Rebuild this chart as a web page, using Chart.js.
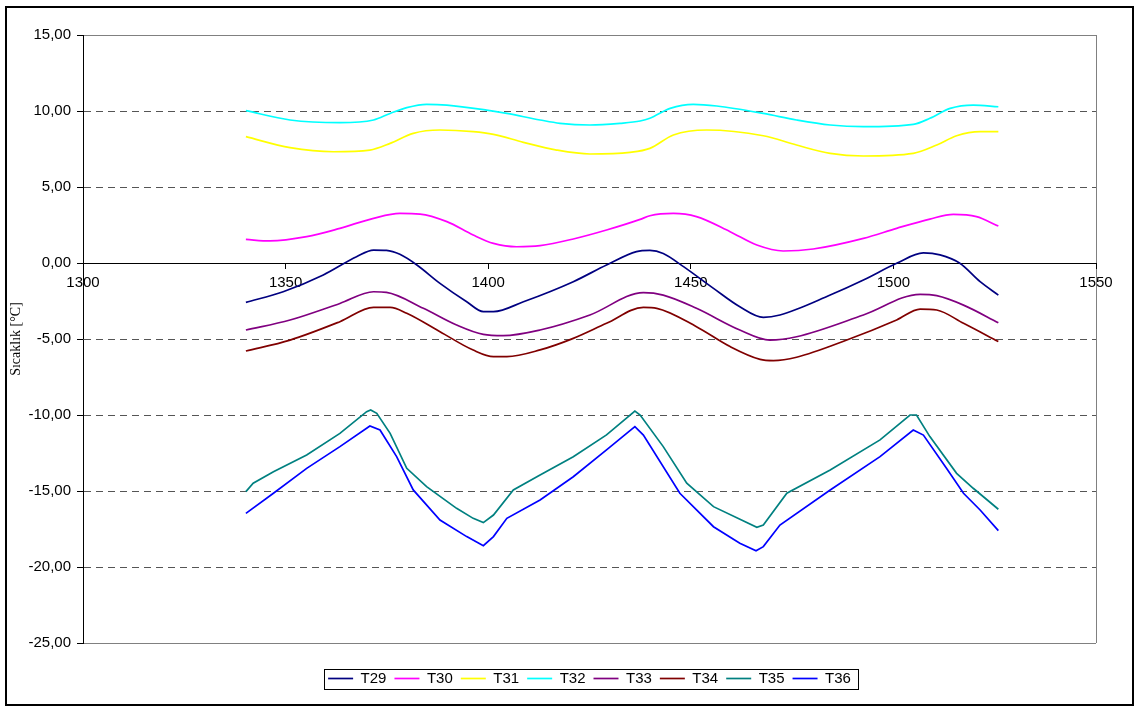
<!DOCTYPE html>
<html>
<head>
<meta charset="utf-8">
<script src="https://cdn.jsdelivr.net/npm/chart.js@4/dist/chart.umd.min.js"></script>
<style>
  html, body { margin: 0; padding: 0; background: #fff; }
  #wrap { width: 1136px; height: 709px; }
</style>
</head>
<body>
<div id="wrap"><canvas id="c" width="1136" height="709"></canvas></div>
<script>
// Time axis ticks and temperature axis ticks
const xTicks = [1300, 1350, 1400, 1450, 1500, 1550];
const yTicks = [-25, -20, -15, -10, -5, 0, 5, 10, 15];

// Measured temperatures, one pair of arrays per sensor (time, °C)
const t29X = [1340.2,1349.4,1359.3,1367.5,1371.7,1374.9,1378.2,1382.4,1388.1,1394.7,1398.8,1401.3,1408.7,1421.0,1429.2,1436.6,1439.9,1443.2,1448.2,1455.6,1462.1,1467.9,1472.0,1484.4,1492.6,1500.8,1507.4,1511.5,1516.4,1521.4,1525.9];
const t29Y = [-2.59,-1.89,-0.79,0.41,0.85,0.83,0.57,-0.13,-1.34,-2.55,-3.20,-3.20,-2.55,-1.23,-0.13,0.75,0.83,0.63,-0.24,-1.67,-2.88,-3.58,-3.42,-2.11,-1.12,-0.02,0.66,0.53,-0.02,-1.23,-2.11];

const t30X = [1340.2,1346.1,1355.2,1363.4,1371.7,1378.2,1383.2,1389.8,1396.3,1401.3,1407.0,1412.8,1421.0,1429.2,1437.5,1439.9,1445.7,1451.4,1459.7,1466.3,1472.8,1480.2,1492.6,1500.8,1509.0,1514.8,1520.5,1525.9];
const t30Y = [1.55,1.45,1.73,2.28,2.94,3.26,3.22,2.72,1.84,1.29,1.07,1.14,1.58,2.17,2.87,3.11,3.26,3.05,2.06,1.18,0.79,0.92,1.62,2.28,2.89,3.20,3.05,2.43];

const t31X = [1340.2,1351.1,1361.8,1370.8,1375.8,1381.5,1388.1,1396.3,1401.3,1408.7,1416.9,1425.1,1435.0,1439.9,1445.7,1453.9,1467.9,1476.1,1484.4,1492.6,1504.9,1510.7,1515.6,1521.4,1525.9];
const t31Y = [8.31,7.59,7.32,7.43,7.87,8.53,8.75,8.64,8.46,7.94,7.43,7.17,7.28,7.54,8.42,8.75,8.37,7.76,7.21,7.04,7.21,7.76,8.37,8.64,8.64];

const t32X = [1340.2,1351.1,1363.4,1371.7,1375.8,1379.9,1384.8,1389.8,1399.6,1404.6,1412.8,1417.7,1425.1,1432.5,1437.5,1439.9,1444.9,1450.6,1456.4,1467.9,1476.1,1484.4,1492.6,1504.9,1509.0,1514.0,1519.7,1525.9];
const t32Y = [10.02,9.41,9.23,9.41,9.84,10.22,10.44,10.39,10.06,9.84,9.41,9.19,9.08,9.19,9.34,9.52,10.17,10.44,10.33,9.84,9.41,9.08,8.97,9.12,9.52,10.17,10.39,10.28];

const t33X = [1340.2,1351.1,1363.4,1371.7,1374.9,1384.0,1392.2,1398.8,1403.7,1412.8,1425.1,1438.3,1443.2,1451.4,1462.1,1469.5,1476.1,1492.6,1506.6,1510.7,1517.3,1525.9];
const t33Y = [-4.41,-3.75,-2.66,-1.89,-1.93,-2.98,-4.08,-4.70,-4.78,-4.41,-3.42,-1.95,-2.11,-2.98,-4.41,-5.07,-4.85,-3.42,-2.06,-2.15,-2.77,-3.93];

const t34X = [1340.2,1351.1,1363.4,1371.7,1375.8,1379.9,1388.1,1396.3,1401.3,1404.6,1412.8,1421.0,1429.2,1438.3,1441.6,1451.4,1459.7,1467.1,1470.4,1476.1,1488.5,1500.8,1506.6,1510.7,1517.3,1525.9];
const t34Y = [-5.79,-5.07,-3.86,-2.92,-2.92,-3.31,-4.52,-5.73,-6.16,-6.16,-5.72,-4.96,-3.97,-2.92,-2.98,-4.19,-5.50,-6.34,-6.42,-6.20,-5.07,-3.75,-3.03,-3.09,-3.97,-5.17];

const t35X = [1340.2,1342.0,1347.0,1355.2,1363.4,1370.0,1371.0,1372.5,1375.8,1379.9,1384.8,1392.2,1396.3,1398.8,1401.3,1406.2,1412.8,1421.0,1429.2,1436.2,1437.5,1443.2,1449.0,1455.6,1466.3,1467.9,1473.7,1484.4,1496.7,1504.1,1505.7,1509.0,1515.6,1519.7,1525.9];
const t35Y = [-15.04,-14.49,-13.73,-12.63,-11.21,-9.78,-9.67,-9.89,-11.21,-13.51,-14.71,-16.14,-16.80,-17.08,-16.58,-14.93,-13.95,-12.74,-11.31,-9.74,-10.00,-12.08,-14.49,-16.03,-17.39,-17.24,-15.15,-13.62,-11.64,-10.00,-10.00,-11.42,-13.84,-14.82,-16.20];

const t36X = [1340.2,1347.0,1355.2,1363.4,1370.8,1373.3,1377.4,1381.5,1388.1,1394.7,1398.8,1401.3,1404.6,1412.8,1421.0,1429.2,1436.2,1438.3,1447.3,1455.6,1462.1,1466.1,1467.9,1472.0,1484.4,1496.7,1504.9,1507.4,1513.1,1517.3,1521.4,1525.9];
const t36Y = [-16.47,-15.15,-13.51,-12.08,-10.72,-10.99,-12.74,-14.93,-16.91,-18.00,-18.60,-18.00,-16.80,-15.59,-14.06,-12.30,-10.77,-11.32,-15.15,-17.35,-18.44,-18.93,-18.66,-17.24,-14.93,-12.74,-10.99,-11.32,-13.51,-15.15,-16.25,-17.61];

const pts = (xs, ys) => xs.map((x, i) => ({ x, y: ys[i] }));

const series = [
  { label: 'T29', xs: t29X, ys: t29Y, color: '#000080', smooth: true },
  { label: 'T30', xs: t30X, ys: t30Y, color: '#FF00FF', smooth: true },
  { label: 'T31', xs: t31X, ys: t31Y, color: '#FFFF00', smooth: true },
  { label: 'T32', xs: t32X, ys: t32Y, color: '#00FFFF', smooth: true },
  { label: 'T33', xs: t33X, ys: t33Y, color: '#800080', smooth: true },
  { label: 'T34', xs: t34X, ys: t34Y, color: '#800000', smooth: true },
  { label: 'T35', xs: t35X, ys: t35Y, color: '#008080', smooth: false },
  { label: 'T36', xs: t36X, ys: t36Y, color: '#0000FF', smooth: false }
];

const SANS = "'Liberation Sans', Arial, sans-serif";

// Outer chart frame, boxed legend under the plot area
const framePlugin = {
  id: 'frame',
  afterLayout(chart) {
    const lg = chart.legend, ca = chart.chartArea;
    const h = lg.bottom - lg.top;
    lg.left = ca.left; lg.right = ca.right; lg.width = ca.right - ca.left;
    lg.top = ca.bottom + 20; lg.bottom = lg.top + h;
  },
  afterDraw(chart) {
    const ctx = chart.ctx;
    const boxes = chart.legend.legendHitBoxes || [];
    ctx.save();
    if (boxes.length) {
      const l = Math.min(...boxes.map(b => b.left)) - 4;
      const r = Math.max(...boxes.map(b => b.left + b.width)) + 7;
      const cy = boxes[0].top + boxes[0].height / 2;
      ctx.strokeStyle = '#000';
      ctx.lineWidth = 1;
      ctx.strokeRect(Math.round(l) + 0.5, Math.round(cy - 10) + 0.5, Math.round(r - l), 20);
    }
    ctx.lineWidth = 2;
    ctx.strokeStyle = '#000';
    ctx.strokeRect(6, 7, 1127, 698);
    ctx.restore();
  }
};

new Chart(document.getElementById('c'), {
  type: 'line',
  data: {
    datasets: series.map(s => ({
      label: s.label,
      data: pts(s.xs, s.ys),
      borderColor: s.color,
      backgroundColor: s.color,
      borderWidth: 1.7,
      pointRadius: 0,
      pointHoverRadius: 0,
      fill: false,
      tension: 0,
      cubicInterpolationMode: s.smooth ? 'monotone' : 'default'
    }))
  },
  options: {
    responsive: false,
    animation: false,
    events: [],
    layout: { padding: { left: 8, right: 40, top: 35, bottom: 33 } },
    plugins: {
      tooltip: { enabled: false },
      legend: {
        position: 'bottom',
        labels: {
          font: { family: SANS, size: 15 },
          color: '#000',
          usePointStyle: true,
          pointStyle: 'line',
          pointStyleWidth: 25,
          padding: 8
        }
      }
    },
    scales: {
      x: {
        type: 'linear',
        position: { y: 0 },
        min: xTicks[0],
        max: xTicks[xTicks.length - 1],
        afterBuildTicks: (scale) => { scale.ticks = xTicks.map(v => ({ value: v })); },
        ticks: {
          font: { family: SANS, size: 15 },
          color: '#000',
          padding: 6,
          maxRotation: 0,
          callback: (v) => String(v)
        },
        grid: {
          drawOnChartArea: true,
          color: (ctx) => (ctx.tick && ctx.tick.value === xTicks[xTicks.length - 1]) ? '#808080' : 'rgba(0,0,0,0)',
          lineWidth: 1,
          tickColor: '#000',
          tickLength: 5
        },
        border: { display: true, color: '#000', width: 1 }
      },
      y: {
        type: 'linear',
        min: yTicks[0],
        max: yTicks[yTicks.length - 1],
        afterBuildTicks: (scale) => { scale.ticks = yTicks.map(v => ({ value: v })); },
        afterFit: (scale) => { scale.width = 75; },
        ticks: {
          font: { family: SANS, size: 15 },
          color: '#000',
          padding: 6,
          callback: (v) => Number(v).toFixed(2).replace('.', ',')
        },
        grid: {
          color: (ctx) => {
            if (!ctx.tick) return '#555';
            const v = ctx.tick.value;
            if (v === 0) return 'rgba(0,0,0,0)';
            if (v === yTicks[0] || v === yTicks[yTicks.length - 1]) return '#808080';
            return '#555';
          },
          lineWidth: 1,
          tickColor: '#000',
          tickLength: 6,
          tickBorderDash: []
        },
        border: {
          display: true,
          color: '#000',
          width: 1,
          dash: (ctx) => {
            if (!ctx.tick) return [];
            const v = ctx.tick.value;
            if (v === yTicks[0] || v === yTicks[yTicks.length - 1]) return [];
            return [7, 5];
          }
        },
        title: {
          display: true,
          text: 'Sıcaklık [°C]',
          font: { family: "'Liberation Serif', 'Times New Roman', serif", size: 14 },
          color: '#000',
          padding: { top: 0, bottom: 0 }
        }
      }
    }
  },
  plugins: [framePlugin]
});
</script>
</body>
</html>
